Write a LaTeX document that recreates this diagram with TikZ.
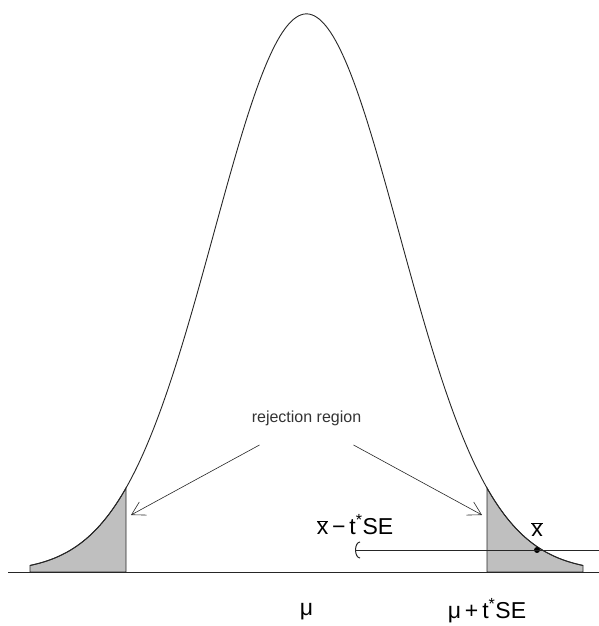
\documentclass[tikz,border=0pt]{standalone}
\usepackage{fontspec}
\setmainfont{Liberation Sans}
\usepackage{tikz}
\usetikzlibrary{arrows.meta, positioning, calc}

\begin{document}
\begin{tikzpicture}[
    x=1pt, y=1pt,
    declare function={zz(\x)=(\x-306.5)/92.75; dens(\x)=558*exp(-0.5*zz(\x)*zz(\x));},
    curve/.style={black!85, line width=0.9pt},
    tail/.style={fill=black!25, draw=black!85, line width=0.9pt},
    pointer/.style={black!85, line width=0.6pt, -{Straight Barb[angle=60:15pt]}},
    interval/.style={black!85, line width=0.8pt, -{Arc Barb[width=17pt, length=5pt, line width=1pt]}},
    lab/.style={font=\fontsize{23}{26}\selectfont, inner sep=0pt},
    small/.style={font=\fontsize{16}{18}\selectfont, black!80},
    dot/.style={circle, fill=black, inner sep=0pt, minimum size=6pt}
]
\useasboundingbox (0,-54) rectangle (599,572);
\fill[tail] (30,0) -- plot[domain=30:126, samples=40] (\x,{dens(\x)}) -- (126,0) -- cycle;
\fill[tail] (487,0) -- plot[domain=487:583, samples=40] (\x,{dens(\x)}) -- (583,0) -- cycle;
\draw[curve] plot[domain=30:583, samples=240] (\x,{dens(\x)});
\coordinate (axisL) at (8,0);
\coordinate (axisR) at (599,0);
\draw[curve] (axisL) -- (axisR);

\node[small] (rej) at (306.5,154) {rejection region};
\coordinate (leftTip) at (131,57);
\coordinate (rightTip) at (482,57);
\draw[pointer] ($(rej.south)+(-47,-16)$) -- (leftTip);
\draw[pointer] ($(rej.south)+(47,-16)$) -- (rightTip);

\node[dot] (xbar) at (537,22) {};
\coordinate (ciLeft) at (355,22);
\coordinate (ciRight) at (599,22);
\draw[interval] (ciRight) -- (ciLeft);
\node[lab, above=10pt of xbar] (xbarlab) {$\overline{\mbox{x}}$};
\node[lab] (lower) at (355,47) {$\overline{\mbox{x}}$\,−\,t\textsuperscript{*}SE};

\node[lab] (mu) at (306.5,-40) {μ};
\node[lab] (upper) at (487,-39) {μ\,+\,t\textsuperscript{*}SE};
\end{tikzpicture}
\end{document}
